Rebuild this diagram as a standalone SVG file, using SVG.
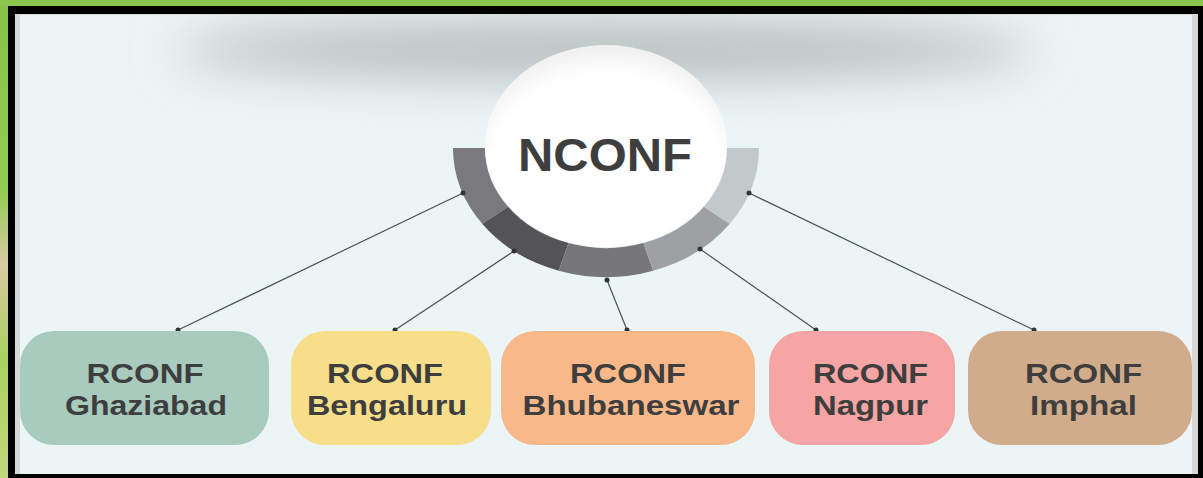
<svg xmlns="http://www.w3.org/2000/svg" width="1203" height="478" viewBox="0 0 1203 478">
  <defs>
    <linearGradient id="frameG" x1="0" y1="0" x2="0" y2="1">
      <stop offset="0" stop-color="#86C144"/>
      <stop offset="0.4" stop-color="#93CC52"/>
      <stop offset="0.55" stop-color="#D9C9A0"/>
      <stop offset="0.75" stop-color="#A9D160"/>
      <stop offset="1" stop-color="#C3D77A"/>
    </linearGradient>
    <filter id="blur" filterUnits="userSpaceOnUse" x="0" y="-100" width="1203" height="320">
      <feGaussianBlur stdDeviation="24"/>
    </filter>
    <radialGradient id="whiteG" cx="0.5" cy="0.62" r="0.6">
      <stop offset="0.8" stop-color="#FFFFFF"/>
      <stop offset="1" stop-color="#F1F1F1"/>
    </radialGradient>
    <clipPath id="bgClip">
      <rect x="15" y="15" width="1180" height="459"/>
    </clipPath>
  </defs>
  <style>
    .conn line { stroke: #505050; stroke-width: 1.2; }
    .conn circle { fill: #333333; }
    .lbl { font-family: "Liberation Sans", Arial, sans-serif; font-weight: bold; fill: #3E3E3E; text-anchor: middle; }
    .sub { font-size: 28px; }
    .main { font-size: 47px; }
  </style>

  <!-- frame -->
  <rect x="0" y="0" width="1203" height="478" fill="url(#frameG)"/>
  <rect x="0" y="0" width="1203" height="6" fill="#8BC64C"/>
  <rect x="8" y="6" width="1195" height="472" fill="#000000"/>
  <rect x="15" y="14" width="1183" height="460" fill="#D6D8D8"/>
  <rect x="20" y="15" width="1172" height="459" fill="#ECF5F6"/>

  <!-- top shadow -->
  <g clip-path="url(#bgClip)">
    <ellipse cx="605" cy="50" rx="430" ry="30" fill="#B6C0BE" filter="url(#blur)"/>
  </g>

  <!-- connectors -->
  <g id="connectors" class="conn">
    <line x1="463" y1="193" x2="178" y2="330"/>
    <line x1="514" y1="251" x2="395" y2="330"/>
    <line x1="607" y1="280" x2="627" y2="330"/>
    <line x1="700" y1="249" x2="816" y2="330"/>
    <line x1="749" y1="193" x2="1034" y2="330"/>
  </g>

  <!-- central node -->
  <g id="nconf">
    <path d="M453,148 A153,129 0 0 0 482.22,223.83 L508.11,206.78 A121,100 0 0 1 485,148 Z" fill="#7A797E"/>
    <path d="M482.22,223.83 A153,129 0 0 0 558.72,270.69 L568.61,243.11 A121,100 0 0 1 508.11,206.78 Z" fill="#545358"/>
    <path d="M558.72,270.69 A153,129 0 0 0 653.28,270.69 L643.39,243.11 A121,100 0 0 1 568.61,243.11 Z" fill="#77767B"/>
    <path d="M653.28,270.69 A153,129 0 0 0 729.78,223.83 L703.89,206.78 A121,100 0 0 1 643.39,243.11 Z" fill="#9EA1A4"/>
    <path d="M729.78,223.83 A153,129 0 0 0 759,148 L727,148 A121,100 0 0 1 703.89,206.78 Z" fill="#C3C8CA"/>
    <ellipse cx="606" cy="146" rx="121" ry="101" fill="url(#whiteG)"/>
    <text class="lbl main" x="605" y="171" textLength="174" lengthAdjust="spacingAndGlyphs">NCONF</text>
  </g>

  <!-- endpoint dots -->
  <g id="connector-dots" class="conn">
    <circle cx="463" cy="193" r="2.5"/><circle cx="178" cy="330" r="2.5"/>
    <circle cx="514" cy="251" r="2.5"/><circle cx="395" cy="330" r="2.5"/>
    <circle cx="607" cy="280" r="2.5"/><circle cx="627" cy="330" r="2.5"/>
    <circle cx="700" cy="249" r="2.5"/><circle cx="816" cy="330" r="2.5"/>
    <circle cx="749" cy="193" r="2.5"/><circle cx="1034" cy="330" r="2.5"/>
  </g>

  <g id="ghaziabad">
    <rect x="20" y="331" width="249" height="114" rx="34" fill="#A8CBBD"/>
    <text class="lbl sub" x="145" y="383" textLength="117" lengthAdjust="spacingAndGlyphs">RCONF</text>
    <text class="lbl sub" x="146" y="415" textLength="162" lengthAdjust="spacingAndGlyphs">Ghaziabad</text>
  </g>
  <g id="bengaluru">
    <rect x="291" y="331" width="200" height="114" rx="34" fill="#F6DE8A"/>
    <text class="lbl sub" x="385" y="383" textLength="116" lengthAdjust="spacingAndGlyphs">RCONF</text>
    <text class="lbl sub" x="387" y="415" textLength="160" lengthAdjust="spacingAndGlyphs">Bengaluru</text>
  </g>
  <g id="bhubaneswar">
    <rect x="501" y="331" width="254" height="114" rx="34" fill="#F9B88A"/>
    <text class="lbl sub" x="628" y="383" textLength="116" lengthAdjust="spacingAndGlyphs">RCONF</text>
    <text class="lbl sub" x="631" y="415" textLength="217" lengthAdjust="spacingAndGlyphs">Bhubaneswar</text>
  </g>
  <g id="nagpur">
    <rect x="769" y="331" width="186" height="114" rx="34" fill="#F6A5A5"/>
    <text class="lbl sub" x="870.5" y="383" textLength="115" lengthAdjust="spacingAndGlyphs">RCONF</text>
    <text class="lbl sub" x="870.5" y="415" textLength="115" lengthAdjust="spacingAndGlyphs">Nagpur</text>
  </g>
  <g id="imphal">
    <rect x="968" y="331" width="224" height="114" rx="34" fill="#D1AC8A"/>
    <text class="lbl sub" x="1083.5" y="383" textLength="117" lengthAdjust="spacingAndGlyphs">RCONF</text>
    <text class="lbl sub" x="1083.5" y="415" textLength="107" lengthAdjust="spacingAndGlyphs">Imphal</text>
  </g>
</svg>
